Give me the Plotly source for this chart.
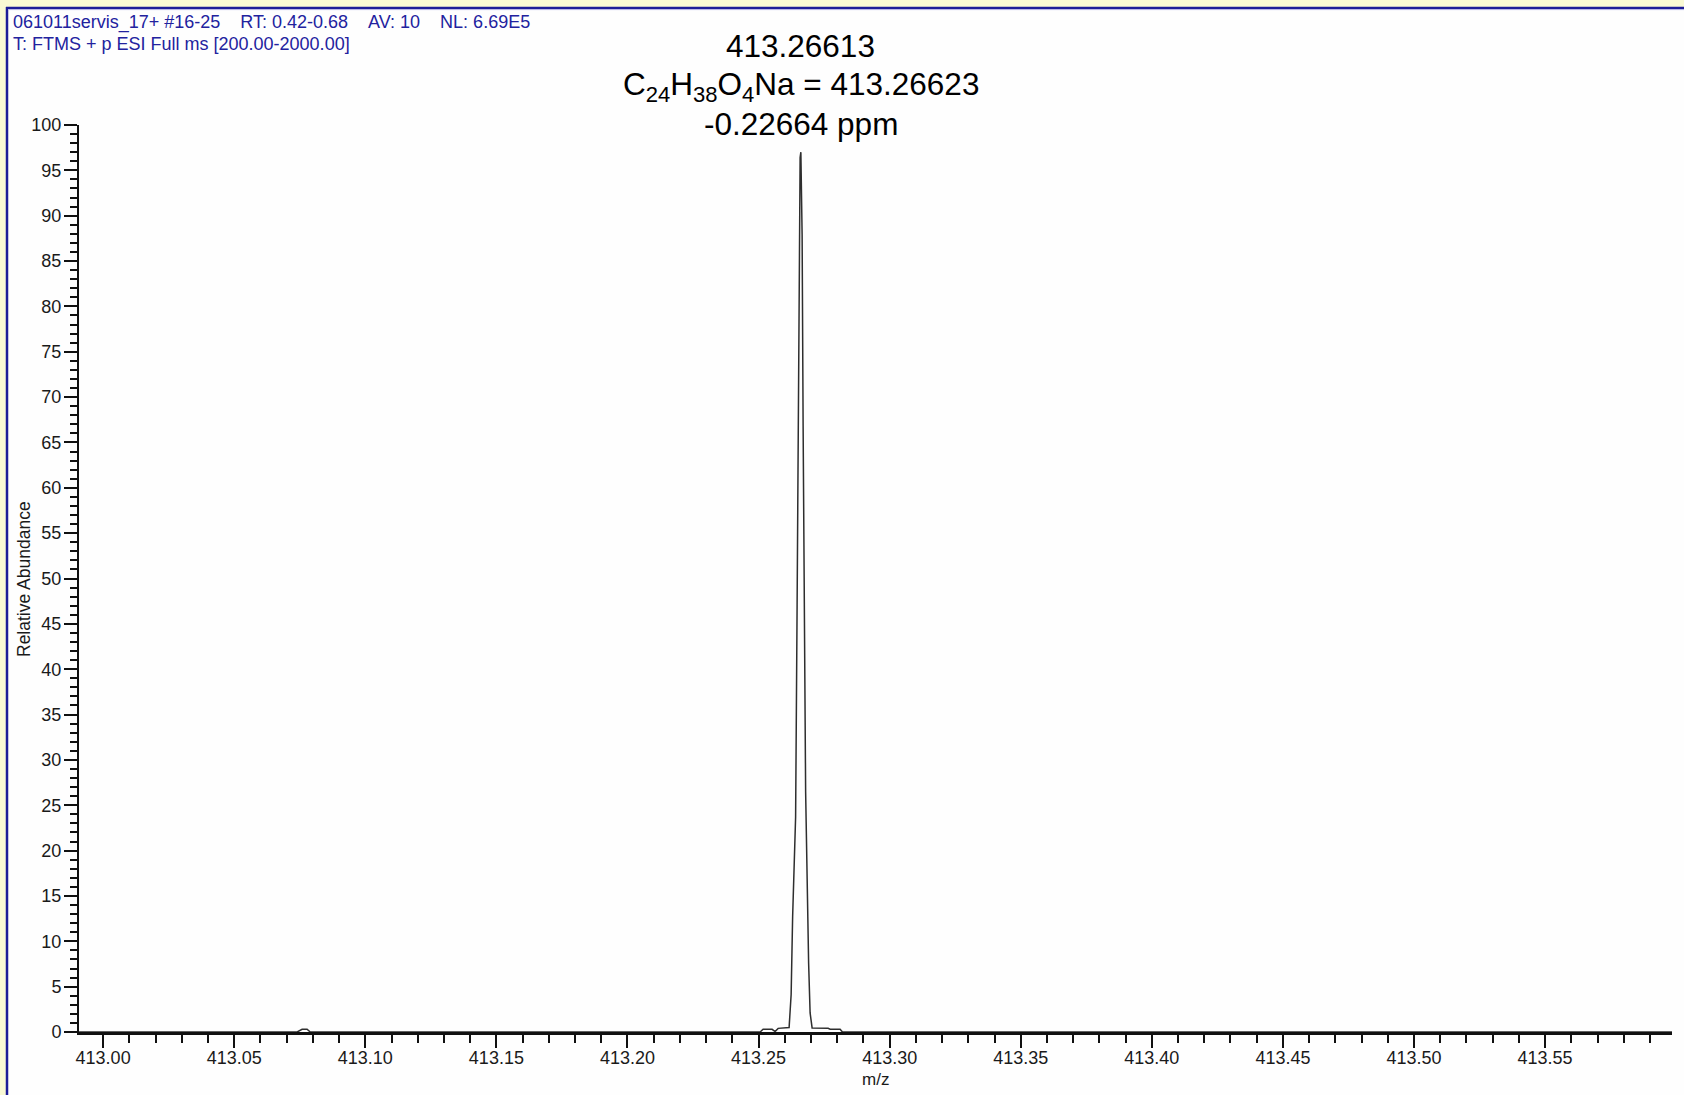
import plotly.graph_objects as go

# Profile spectrum around the sodiated molecular ion (m/z, relative abundance %)
mz = [
    412.9900, 413.0740, 413.0759, 413.0778, 413.0790,
    413.25059, 413.25173, 413.25517, 413.25631, 413.25746, 413.26165,
    413.26242, 413.26299, 413.26413, 413.26470, 413.26528, 413.26585,
    413.26613,
    413.26661, 413.26699, 413.26795, 413.26909, 413.26966, 413.27042,
    413.27652, 413.27729, 413.28110, 413.28200, 413.6000,
]
abundance = [
    0.0, 0.0, 0.3, 0.3, 0.0,
    0.0, 0.3, 0.3, 0.05, 0.4, 0.5,
    4.1, 12.7, 23.7, 47.1, 79.8, 96.4,
    97.0,
    87.9, 66.9, 26.5, 7.6, 2.1, 0.45,
    0.4, 0.3, 0.3, 0.0, 0.0,
]

peak_mz = 413.26613
formula_label = "C<sub>24</sub>H<sub>38</sub>O<sub>4</sub>Na = 413.26623"
ppm_label = "-0.22664 ppm"

GAP = "\u00a0" * 4
header_line1 = f"061011servis_17+ #16-25{GAP}RT: 0.42-0.68{GAP}AV: 10{GAP}NL: 6.69E5"
header_line2 = "T: FTMS + p ESI Full ms [200.00-2000.00]"

x_range = [412.9908, 413.5984]
y_range = [0, 100]

W, H = 1684, 1095
ML, MR, MT, MB = 79, 12, 125, 63
PW = W - ML - MR
PH = H - MT - MB


def px_x(px):
    return (px - ML) / PW


def px_y(py):
    return (H - MB - py) / PH


FONT = "Liberation Sans, Arial, sans-serif"
INK = "#1a1a1a"

fig = go.Figure()
fig.add_trace(go.Scatter(
    x=mz, y=abundance, mode="lines",
    line=dict(color="#2e2e2e", width=1.5),
    hoverinfo="skip", showlegend=False,
))

fig.update_layout(
    width=W, height=H,
    margin=dict(l=ML, r=MR, t=MT, b=MB, autoexpand=False),
    paper_bgcolor="#FEFEFE",
    plot_bgcolor="#FEFEFE",
    showlegend=False,
    font=dict(family=FONT, color=INK),
)

fig.update_xaxes(
    range=x_range, tick0=413.0, dtick=0.05, tickformat=".2f",
    ticks="outside", ticklen=13, tickwidth=1.5, tickcolor="#111111",
    minor=dict(dtick=0.01, tick0=413.0, ticks="outside", ticklen=8,
               tickwidth=1.5, tickcolor="#111111"),
    showline=True, linecolor="#111111", linewidth=2.5,
    showgrid=False, zeroline=False,
    tickfont=dict(size=18, family=FONT, color=INK),
    ticklabelstandoff=-5,
)
fig.update_yaxes(
    range=y_range, tick0=0, dtick=5,
    ticks="outside", ticklen=13, tickwidth=1.5, tickcolor="#111111",
    minor=dict(dtick=1, ticks="outside", ticklen=7, tickwidth=1.5,
               tickcolor="#111111"),
    showline=True, linecolor="#111111", linewidth=2,
    showgrid=False, zeroline=False,
    tickfont=dict(size=18, family=FONT, color=INK),
    ticklabelstandoff=-1,
)

# Axis titles
fig.add_annotation(
    text="Relative Abundance", textangle=-90,
    xref="paper", yref="paper", x=px_x(23.5), y=0.5,
    xanchor="center", yanchor="middle", showarrow=False,
    font=dict(size=17.5, family=FONT, color=INK),
)
fig.add_annotation(
    text="m/z", xref="paper", yref="paper", x=0.5, y=px_y(1079),
    xanchor="center", yanchor="middle", showarrow=False,
    font=dict(size=17, family=FONT, color=INK),
)

# Window frame: yellow strip with a blue border along the top and left edges
frame_yellow = "#F9F9D4"
frame_blue = "#1C1C98"
fig.add_shape(type="rect", xref="paper", yref="paper",
              x0=px_x(0), x1=px_x(W), y0=px_y(7), y1=px_y(0),
              fillcolor=frame_yellow, line=dict(width=0), layer="below")
fig.add_shape(type="rect", xref="paper", yref="paper",
              x0=px_x(0), x1=px_x(6), y0=px_y(H), y1=px_y(0),
              fillcolor=frame_yellow, line=dict(width=0), layer="below")
fig.add_shape(type="line", xref="paper", yref="paper",
              x0=px_x(6), x1=px_x(W), y0=px_y(8), y1=px_y(8),
              line=dict(color=frame_blue, width=2.5))
fig.add_shape(type="line", xref="paper", yref="paper",
              x0=px_x(7), x1=px_x(7), y0=px_y(7), y1=px_y(H),
              line=dict(color=frame_blue, width=2.5))
fig.add_shape(type="line", xref="paper", yref="paper",
              x0=px_x(8), x1=px_x(W), y0=px_y(9.6), y1=px_y(9.6),
              line=dict(color="#B4B4E6", width=1))

# Scan header
for text, py in [(header_line1, 23), (header_line2, 44)]:
    fig.add_annotation(
        text=text, xref="paper", yref="paper",
        x=px_x(11), y=px_y(py), xanchor="left", yanchor="middle",
        showarrow=False,
        font=dict(size=18, family=FONT, color="#22229E"),
    )

# Peak label: measured m/z, assigned formula and mass error
for text, py in [(f"{peak_mz:.5f}", 46), (formula_label, 86), (ppm_label, 124)]:
    fig.add_annotation(
        text=text, x=peak_mz, xref="x", y=px_y(py), yref="paper",
        xanchor="center", yanchor="middle", showarrow=False,
        font=dict(size=31.5, family=FONT, color="#000000"),
    )

fig.write_html("out.html", config={"displayModeBar": False})
